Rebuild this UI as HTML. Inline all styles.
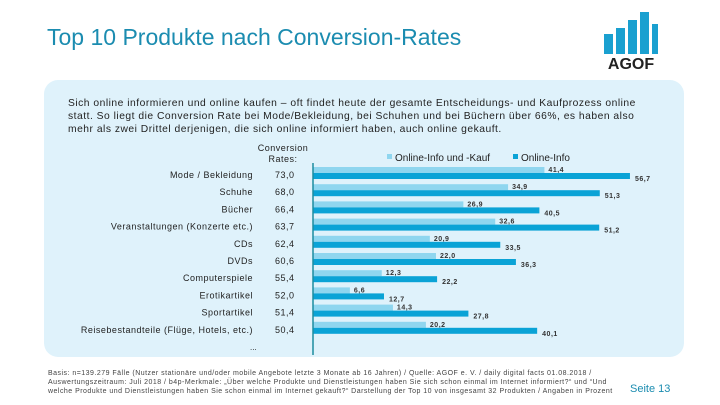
<!DOCTYPE html>
<html><head><meta charset="utf-8"><style>
body{margin:0;width:720px;height:405px;background:#fff;font-family:"Liberation Sans",sans-serif;position:relative;overflow:hidden}
.abs{position:absolute}
</style></head><body>
<div class="abs" style="left:47px;top:24px;font-size:23px;color:#1b8cb0">Top 10 Produkte nach Conversion-Rates</div>
<svg class="abs" style="left:596px;top:12px" width="70" height="60">
<rect x="8" y="22" width="9" height="20" fill="#1aa0d0"/><rect x="20" y="16" width="9" height="26" fill="#1aa0d0"/><rect x="32" y="8" width="9" height="34" fill="#1aa0d0"/><rect x="44" y="0" width="9" height="42" fill="#1aa0d0"/><rect x="56" y="12" width="6" height="30" fill="#1aa0d0"/>
<text x="35" y="57" text-anchor="middle" font-family="Liberation Sans" font-weight="bold" font-size="16" fill="#222">AGOF</text></svg>
<div class="abs" style="left:44px;top:80px;width:640px;height:277px;background:#dff2fb;border-radius:14px"></div>
<div class="abs" style="left:68px;top:97px;width:620px;font-size:10.3px;line-height:13px;color:#222;white-space:nowrap;letter-spacing:0.5px">Sich online informieren und online kaufen – oft findet heute der gesamte Entscheidungs- und Kaufprozess online<br>statt. So liegt die Conversion Rate bei Mode/Bekleidung, bei Schuhen und bei Büchern über 66%, es haben also<br>mehr als zwei Drittel derjenigen, die sich online informiert haben, auch online gekauft.</div>
<svg class="abs" id="chart" style="left:0;top:0" width="720" height="405" font-family="Liberation Sans"></svg>
<div class="abs" style="left:48px;top:369px;width:580px;font-size:7px;line-height:9px;color:#444;white-space:nowrap;letter-spacing:0.48px">Basis: n=139.279 Fälle (Nutzer stationäre und/oder mobile Angebote letzte 3 Monate ab 16 Jahren) / Quelle: AGOF e. V. / daily digital facts 01.08.2018 /<br>Auswertungszeitraum: Juli 2018 / b4p-Merkmale: „Über welche Produkte und Dienstleistungen haben Sie sich schon einmal im Internet informiert?“ und “Und<br>welche Produkte und Dienstleistungen haben Sie schon einmal im Internet gekauft?“ Darstellung der Top 10 von insgesamt 32 Produkten / Angaben in Prozent</div>
<div class="abs" style="left:630px;top:383px;font-size:11px;color:#1b8cb0">Seite 13</div>
<script>
const categories=["Mode / Bekleidung","Schuhe","Bücher","Veranstaltungen (Konzerte etc.)","CDs","DVDs","Computerspiele","Erotikartikel","Sportartikel","Reisebestandteile (Flüge, Hotels, etc.)"];
const conversionRates=["73,0","68,0","66,4","63,7","62,4","60,6","55,4","52,0","51,4","50,4"];
const infoKauf=[41.4,34.9,26.9,32.6,20.9,22.0,12.3,6.6,14.3,20.2];
const infoOnly=[56.7,51.3,40.5,51.2,33.5,36.3,22.2,12.7,27.8,40.1];
const svg=document.getElementById('chart');const NS='http://www.w3.org/2000/svg';
const x0=313,scale=5.59,y0=175,pitch=17.2;
const xs=v=>x0+v*scale;const ys=i=>y0+i*pitch;
const fmt=v=>v.toFixed(1).replace('.',',');
function mk(t,a,txt){const e=document.createElementNS(NS,t);for(const k in a)e.setAttribute(k,a[k]);if(txt!==undefined)e.textContent=txt;svg.appendChild(e);return e;}
let e;
e=mk('text',{x:283,y:151,'text-anchor':'middle','font-size':9,fill:'#222','letter-spacing':0.5},'Conversion');

e=mk('text',{x:283,y:162,'text-anchor':'middle','font-size':9,fill:'#222','letter-spacing':0.5},'Rates:');

e=mk('rect',{x:387,y:154,width:5,height:5,fill:'#8fd6ef'});

e=mk('text',{x:395,y:161,'font-size':10,fill:'#222'},'Online-Info und -Kauf');

e=mk('rect',{x:513,y:154,width:5,height:5,fill:'#0aa3d6'});

e=mk('text',{x:521,y:161,'font-size':10,fill:'#222'},'Online-Info');

categories.forEach((c,i)=>{const y=ys(i);
e=mk('text',{x:253,y:y+3,'text-anchor':'end','font-size':9,fill:'#222','letter-spacing':0.5},c);

e=mk('text',{x:275,y:y+3,'font-size':9,fill:'#222','letter-spacing':0.5},conversionRates[i]);

e=mk('rect',{x:x0,y:y-8,width:xs(infoKauf[i])-x0,height:6,fill:'#8fd6ef'});

e=mk('text',{x:xs(infoKauf[i])+4,y:y-3,'font-size':7,'font-weight':'bold',fill:'#333','letter-spacing':0.5},fmt(infoKauf[i]));

e=mk('rect',{x:x0,y:y-2,width:xs(infoOnly[i])-x0,height:6,fill:'#0aa3d6'});

e=mk('text',{x:xs(infoOnly[i])+5,y:y+6,'font-size':7,'font-weight':'bold',fill:'#333','letter-spacing':0.5},fmt(infoOnly[i]));

});
e=mk('line',{x1:x0,y1:163,x2:x0,y2:355,stroke:'#1d8ca0','stroke-width':1.5});

e=mk('text',{x:250,y:350,'font-size':8,fill:'#222'},'...');

</script>
</body></html>
